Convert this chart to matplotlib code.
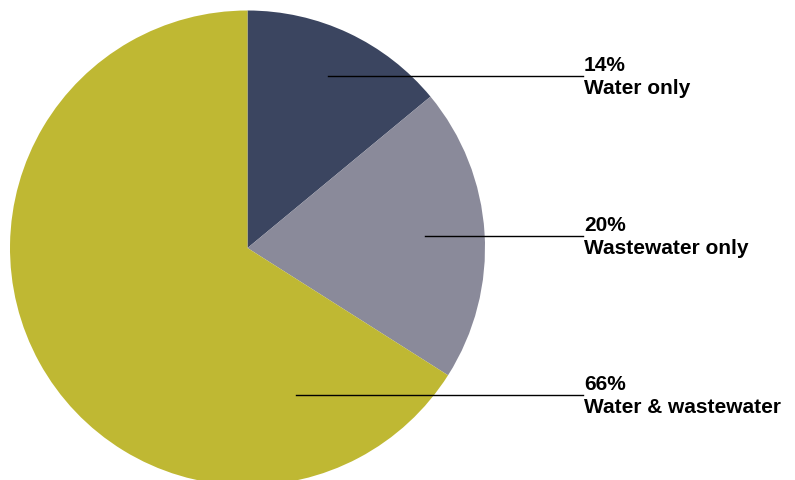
import matplotlib
matplotlib.use("Agg")
import matplotlib.pyplot as plt
from matplotlib import font_manager

labels = ['Water only', 'Wastewater only', 'Water & wastewater']
shares = [14, 20, 66]
colors = ['#3b4560', '#8a8a9a', '#bfb833']

# pixel layout of the label leaders (start x, y) and text x
leader_start = [(328, 76), (425, 236), (296, 395)]
text_x = 584

names = {f.name for f in font_manager.fontManager.ttflist}
family = ['Liberation Sans Narrow', 'Liberation Sans', 'DejaVu Sans']
family = [f for f in family if f in names] or ['DejaVu Sans']

W, H = 795, 480
fig = plt.figure(figsize=(W / 100, H / 100), dpi=100)
ax = fig.add_axes([0, 0, 1, 1])

cx, cy, r = 247.5, H - 248, 237.5
ax.pie(shares, colors=colors, startangle=90, counterclock=False,
       center=(cx, cy), radius=r, wedgeprops=dict(linewidth=0))

for (x0, y0), pct, lab in zip(leader_start, shares, labels):
    ax.plot([x0, text_x - 1], [H - y0, H - y0], color='black', lw=1)
    ax.text(text_x, H - y0 + 1, '{}%'.format(pct), ha='left', va='bottom',
            fontsize=15, fontweight='bold', family=family)
    ax.text(text_x, H - y0 - 3, lab, ha='left', va='top',
            fontsize=15, fontweight='bold', family=family)

ax.set_xlim(0, W)
ax.set_ylim(0, H)
ax.set_aspect('equal')
ax.axis('off')

fig.savefig('out.png', dpi=100)
